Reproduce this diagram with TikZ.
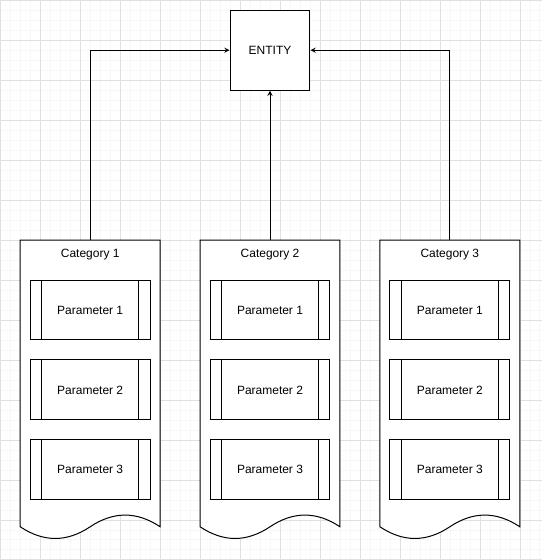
\documentclass[tikz,border=0pt]{standalone}
\usepackage{fontspec}
\setmainfont{Liberation Sans}
\usetikzlibrary{positioning, arrows}
\tikzstyle{arrow} = [line width=0.75pt,->,>=stealth]

\begin{document}
\begin{tikzpicture}
        [
            x=0.75pt, y=-0.75pt,
            font=\fontsize{9}{11}\selectfont,
            entitybox/.style={rectangle,draw=black,line width=0.75pt,fill=white,minimum size=60pt,inner sep=0pt},
            parambox/.style={rectangle,draw=black,line width=0.75pt,fill=white,minimum width=90pt,minimum height=45pt,inner sep=0pt},
        ]

    % grid background
    \fill[white] (0,0) rectangle (542,560);
    \draw[black!3, step=7.5pt] (0,0) grid (542,560);
    \draw[black!12, step=30pt] (0,0) grid (542,560);
    \useasboundingbox (0,0) rectangle (542,560);

    \node[entitybox] (entity) at (270,50) {ENTITY};

    \foreach \i in {1,2,3}{
        \begin{scope}[shift={(180*\i-180,0)}]
            \draw[line width=0.75pt,fill=white] (20,240) -- (160,240) -- (160,527)
                .. controls (136.7,511.4) and (113.3,511.4) .. (90,527)
                .. controls (66.7,542.6) and (43.3,542.6) .. (20,527) -- cycle;
            \coordinate (cattop\i) at (90,240);
            \node (cattitle\i) at (90,254.5) {Category \i};
            \foreach \j/\y in {1/310,2/390,3/470}{
                \node[parambox] (param\i\j) at (90,\y) {Parameter \j};
                \draw[line width=0.75pt] ([xshift=9pt]param\i\j.north west) -- ([xshift=9pt]param\i\j.south west);
                \draw[line width=0.75pt] ([xshift=-9pt]param\i\j.north east) -- ([xshift=-9pt]param\i\j.south east);
            }
        \end{scope}
    }

    \draw[arrow] (cattop1) |- (entity.west);
    \draw[arrow] (cattop2) -- (entity.south);
    \draw[arrow] (cattop3) |- (entity.east);
\end{tikzpicture}
\end{document}
